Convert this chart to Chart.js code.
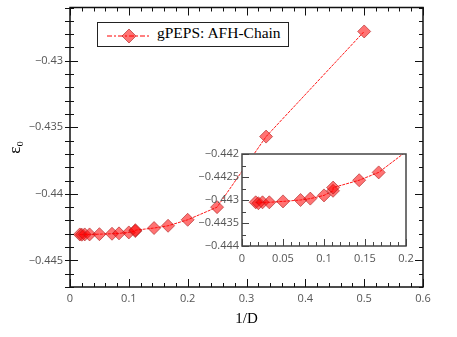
<!DOCTYPE html>
<html>
<head>
<meta charset="utf-8">
<script src="https://cdn.jsdelivr.net/npm/chart.js@4.4.1/dist/chart.umd.min.js"></script>
<style>
  body { margin: 0; background: #fff; }
  #wrap { position: relative; width: 457px; height: 337px; }
  #main { position: absolute; left: 0; top: 0; }
  #inset { position: absolute; left: 190px; top: 140px; }
  #legend {
    position: absolute; left: 97px; top: 22px; width: 190px; height: 23px;
    border: 1px solid #222; background: #fff;
    font-family: 'Liberation Serif', serif; font-size: 15.5px; color: #000;
  }
  #legend svg { position: absolute; left: 8px; top: 2px; }
  #legend span { position: absolute; left: 59px; top: 1px; }
</style>
</head>
<body>
<div id="wrap">
  <canvas id="main" width="457" height="337"></canvas>
  <canvas id="inset" width="230" height="130"></canvas>
  <div id="legend">
    <svg width="46" height="20">
      <line x1="1" y1="11" x2="44" y2="11" stroke="red" stroke-width="1" stroke-dasharray="5,2,2,2"/>
      <polygon points="23,4 30,11 23,18 16,11" fill="rgba(255,0,0,0.55)" stroke="rgba(170,30,30,0.6)"/>
    </svg>
    <span>gPEPS: AFH-Chain</span>
  </div>
</div>
<script>
// 1/D and energy per site
const invD = [0.0167, 0.02, 0.025, 0.0333, 0.05, 0.0714, 0.0833, 0.1, 0.111, 0.1111, 0.1429, 0.1667, 0.2, 0.25, 0.3333, 0.5];
const energy = [-0.44305, -0.44307, -0.44305, -0.44305, -0.44303, -0.443, -0.44297, -0.4429, -0.4428, -0.44273, -0.44257, -0.4424, -0.44195, -0.441, -0.4357, -0.4278];

const xTicksMain = [0, 0.1, 0.2, 0.3, 0.4, 0.5, 0.6];
const yTicksMain = [-0.445, -0.44, -0.435, -0.43];
const xTicksInset = [0, 0.05, 0.1, 0.15, 0.2];
const yTicksInset = [-0.444, -0.4435, -0.443, -0.4425, -0.442];

const pts = invD.map((x, i) => ({x: x, y: energy[i]}));
const fmt = v => String(v).replace('-', '\u2212');

Chart.defaults.font.family = "'Open Sans', 'DejaVu Sans', sans-serif";
Chart.defaults.font.size = 11;
Chart.defaults.color = '#555';
Chart.defaults.animation = false;

// no label overhang padding, the layout padding decides the plot box
function fixBox(prop, size) {
  return s => {
    s[prop] = size;
    s.paddingTop = s.paddingBottom = s.paddingLeft = s.paddingRight = 0;
  };
}

// frame + inward ticks
const frameTicks = {
  id: 'frameTicks',
  beforeDraw(chart, args, o) {
    if (!o.fill) return;
    const a = chart.chartArea, ctx = chart.ctx;
    ctx.save();
    ctx.fillStyle = o.fill;
    ctx.fillRect(a.left, a.top, a.right - a.left, a.bottom - a.top);
    ctx.restore();
  },
  afterDraw(chart, args, o) {
    const {ctx, chartArea: a, scales: {x, y}} = chart;
    ctx.save();
    ctx.strokeStyle = o.color;
    ctx.lineWidth = o.width;
    ctx.strokeRect(a.left, a.top, a.right - a.left, a.bottom - a.top);
    ctx.lineWidth = 1;
    ctx.beginPath();
    const tickLine = (scale, v, len, horiz) => {
      const p = Math.round(scale.getPixelForValue(v)) + 0.5;
      if (horiz) {
        ctx.moveTo(p, a.bottom); ctx.lineTo(p, a.bottom - len);
        if (o.mirror) { ctx.moveTo(p, a.top); ctx.lineTo(p, a.top + len); }
      } else {
        ctx.moveTo(a.left - (o.out || 0), p); ctx.lineTo(a.left + len, p);
        if (o.mirror) { ctx.moveTo(a.right, p); ctx.lineTo(a.right - len, p); }
      }
    };
    const minors = (scale, step, horiz) => {
      const n0 = Math.ceil(scale.min / step - 1e-6), n1 = Math.floor(scale.max / step + 1e-6);
      for (let n = n0; n <= n1; n++) tickLine(scale, n * step, o.minor, horiz);
    };
    minors(x, o.xMinor, true);
    minors(y, o.yMinor, false);
    x.ticks.forEach(t => tickLine(x, t.value, o.major, true));
    y.ticks.forEach(t => tickLine(y, t.value, o.major, false));
    ctx.stroke();
    ctx.restore();
  }
};

const lineStyle = {
  showLine: true,
  borderColor: 'rgba(255,0,0,0.9)',
  borderWidth: 1,
  borderDash: [3, 1],
  backgroundColor: 'rgba(255,0,0,0.55)',
  pointStyle: 'rectRot',
  pointBorderColor: 'rgba(170,30,30,0.6)',
  pointBorderWidth: 1,
  pointRadius: 6.5
};

new Chart(document.getElementById('main'), {
  type: 'scatter',
  data: { datasets: [Object.assign({ data: pts }, lineStyle)] },
  options: {
    responsive: false,
    layout: { padding: { top: 6, right: 34, left: 0, bottom: 0 } },
    plugins: {
      legend: { display: false },
      tooltip: { enabled: false },
      frameTicks: { color: '#111', width: 1.5, mirror: true, major: 8, minor: 4, out: 5, xMinor: 0.02, yMinor: 0.001 }
    },
    scales: {
      x: {
        type: 'linear', min: 0, max: 0.6,
        grid: { display: false, drawTicks: false },
        border: { display: false },
        afterBuildTicks: s => { s.ticks = xTicksMain.map(v => ({ value: v })); },
        afterFit: fixBox('height', 50),
        ticks: { padding: 5, callback: v => fmt(v) },
        title: { display: true, text: '1/D', color: '#000', font: { family: "'Liberation Serif', serif", size: 15 }, padding: { top: 0, bottom: 9 } }
      },
      y: {
        type: 'linear', min: -0.447, max: -0.426,
        grid: { display: false, drawTicks: false },
        border: { display: false },
        afterBuildTicks: s => { s.ticks = yTicksMain.map(v => ({ value: v })); },
        afterFit: fixBox('width', 70),
        ticks: { padding: 7, callback: v => fmt(v) },
        title: { display: true, text: 'ε₀', color: '#000', font: { family: "'Liberation Serif', serif", size: 17 }, padding: { top: 5, bottom: 0 } }
      }
    }
  },
  plugins: [frameTicks]
});

new Chart(document.getElementById('inset'), {
  type: 'scatter',
  data: { datasets: [Object.assign({ data: pts, clip: 0 }, lineStyle, {
    pointRadius: ctx => (ctx.raw && ctx.raw.x < 0.2 ? 6.5 : 0)
  })] },
  options: {
    responsive: false,
    layout: { padding: { top: 14, right: 14, left: 0, bottom: 0 } },
    plugins: {
      legend: { display: false },
      tooltip: { enabled: false },
      frameTicks: { fill: '#fff', color: '#444', width: 1.5, mirror: false, major: 7, minor: 4, xMinor: 0.01, yMinor: 0.00025 }
    },
    scales: {
      x: {
        type: 'linear', min: 0, max: 0.2,
        grid: { display: false, drawTicks: false },
        border: { display: false },
        afterBuildTicks: s => { s.ticks = xTicksInset.map(v => ({ value: v })); },
        afterFit: fixBox('height', 24),
        ticks: { padding: 6, callback: v => fmt(v) }
      },
      y: {
        type: 'linear', min: -0.444, max: -0.442,
        grid: { display: false, drawTicks: false },
        border: { display: false },
        afterBuildTicks: s => { s.ticks = yTicksInset.map(v => ({ value: v })); },
        afterFit: fixBox('width', 52),
        ticks: { padding: 3, callback: v => fmt(v) }
      }
    }
  },
  plugins: [frameTicks]
});
</script>
</body>
</html>
